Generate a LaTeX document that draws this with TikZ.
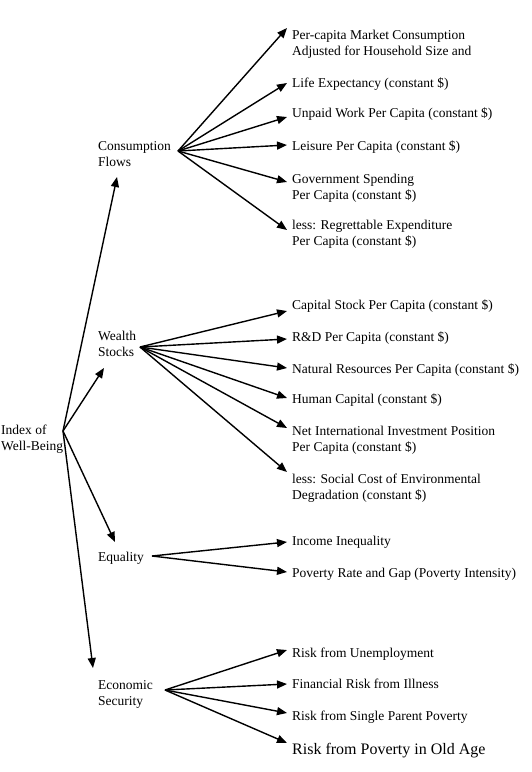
\documentclass[tikz,border=0pt]{standalone}
\usepackage{fontspec}
\setmainfont{Liberation Serif}
\usetikzlibrary{arrows.meta}
\begin{document}
\begin{tikzpicture}[x=1pt,y=-1pt,
  lbl/.style={anchor=base west,inner sep=0pt,align=left,font=\fontsize{13.5}{16}\selectfont},
  big/.style={anchor=base west,inner sep=0pt,align=left,font=\fontsize{16}{19}\selectfont},
  arr/.style={line width=1.4pt,-{Triangle[length=10pt,width=8pt]}}]
\useasboundingbox (0,0) rectangle (532,772);
% root (base anchor = last line's baseline)
\node[lbl] (idx) at (1,450) {Index of\\Well-Being};
\coordinate (hI) at (63,431);
% categories
\node[lbl] (cf) at (98,166) {Consumption\\Flows};
\node[lbl] (ws) at (98,356) {Wealth\\Stocks};
\node[lbl] (eq) at (98,561) {Equality};
\node[lbl] (es) at (98,705) {Economic\\Security};
\coordinate (hC) at (178,151);
\coordinate (hW) at (140,347);
\coordinate (hE) at (152,556);
\coordinate (hS) at (165,690);
\coordinate (tC) at (117,177);
\coordinate (tW) at (104,368);
\coordinate (tE) at (115,542);
\coordinate (tS) at (93,668);
% consumption leaves
\node[lbl] (c1) at (292,55) {Per-capita Market Consumption\\Adjusted for Household Size and};
\node[lbl] (c2) at (292,87) {Life Expectancy (constant \$)};
\node[lbl] (c3) at (292,117) {Unpaid Work Per Capita (constant \$)};
\node[lbl] (c4) at (292,150) {Leisure Per Capita (constant \$)};
\node[lbl] (c5) at (292,199) {Government Spending\\Per Capita (constant \$)};
\node[lbl] (c6) at (292,245) {less: Regrettable Expenditure\\Per Capita (constant \$)};
\coordinate (tc1) at (287,28);
\coordinate (tc2) at (287,83);
\coordinate (tc3) at (287,117);
\coordinate (tc4) at (287,145);
\coordinate (tc5) at (287,182);
\coordinate (tc6) at (287,230);
% wealth leaves
\node[lbl] (w1) at (292,309) {Capital Stock Per Capita (constant \$)};
\node[lbl] (w2) at (292,341) {R\&D Per Capita (constant \$)};
\node[lbl] (w3) at (292,373) {Natural Resources Per Capita (constant \$)};
\node[lbl] (w4) at (292,403) {Human Capital (constant \$)};
\node[lbl] (w5) at (292,451) {Net International Investment Position\\Per Capita (constant \$)};
\node[lbl] (w6) at (292,499) {less: Social Cost of Environmental\\Degradation (constant \$)};
\coordinate (tw1) at (287,311);
\coordinate (tw2) at (287,339);
\coordinate (tw3) at (287,368);
\coordinate (tw4) at (287,398);
\coordinate (tw5) at (287,428);
\coordinate (tw6) at (287,472);
% equality leaves
\node[lbl] (e1) at (292,545) {Income Inequality};
\node[lbl] (e2) at (292,577) {Poverty Rate and Gap (Poverty Intensity)};
\coordinate (te1) at (287,542);
\coordinate (te2) at (287,572);
% security leaves
\node[lbl] (s1) at (292,657) {Risk from Unemployment};
\node[lbl] (s2) at (292,688) {Financial Risk from Illness};
\node[lbl] (s3) at (292,720) {Risk from Single Parent Poverty};
\node[big] (s4) at (292,754) {Risk from Poverty in Old Age};
\coordinate (ts1) at (287,650);
\coordinate (ts2) at (287,684);
\coordinate (ts3) at (287,713);
\coordinate (ts4) at (287,743);
% connectors
\foreach \t in {tC,tW,tE,tS} \draw[arr] (hI) -- (\t);
\foreach \t in {tc1,tc2,tc3,tc4,tc5,tc6} \draw[arr] (hC) -- (\t);
\foreach \t in {tw1,tw2,tw3,tw4,tw5,tw6} \draw[arr] (hW) -- (\t);
\foreach \t in {te1,te2} \draw[arr] (hE) -- (\t);
\foreach \t in {ts1,ts2,ts3,ts4} \draw[arr] (hS) -- (\t);
\end{tikzpicture}
\end{document}
